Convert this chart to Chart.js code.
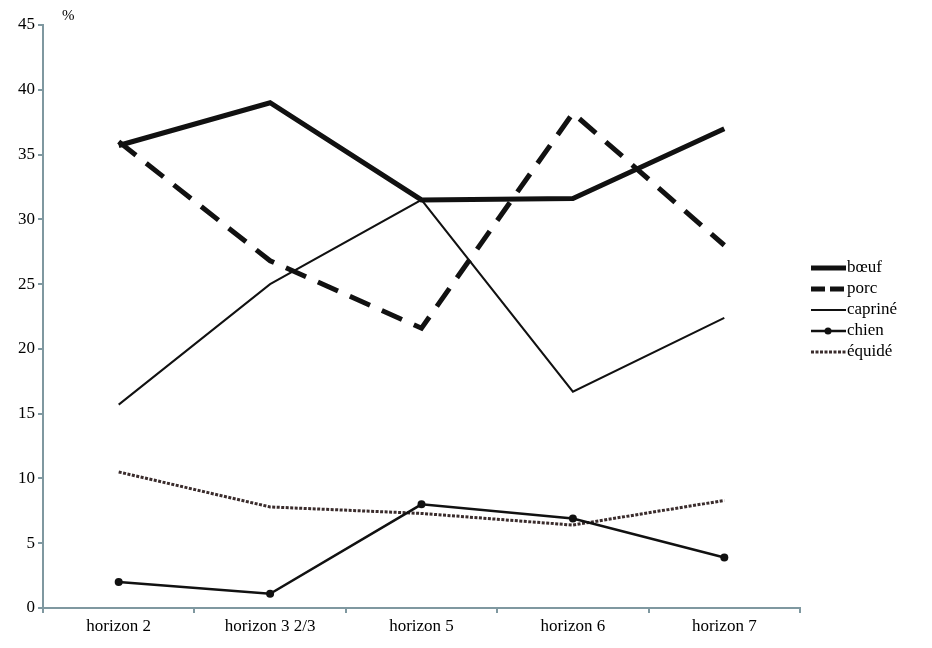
<!DOCTYPE html>
<html>
<head>
<meta charset="utf-8">
<script src="https://cdn.jsdelivr.net/npm/chart.js@4.4.0/dist/chart.umd.min.js"></script>
<style>
  body { margin: 0; background: #fff; }
  #wrap { width: 932px; height: 648px; }
</style>
</head>
<body>
<div id="wrap"><canvas id="myChart" width="932" height="648"></canvas></div>
<script>
// categories + series (% of remains)
const horizons = ["horizon 2", "horizon 3 2/3", "horizon 5", "horizon 6", "horizon 7"];
const boeuf   = [35.7, 39.0, 31.5, 31.6, 37.0];
const porc    = [36.0, 26.8, 21.6, 38.2, 28.0];
const caprine = [15.7, 25.0, 31.5, 16.7, 22.4];
const chien   = [2.0, 1.1, 8.0, 6.9, 3.9];
const equide  = [10.5, 7.8, 7.3, 6.4, 8.3];
const yTicks  = [0, 5, 10, 15, 20, 25, 30, 35, 40, 45];

const axisColor = "#7f98a0";
const serif = "'Liberation Serif', 'DejaVu Serif', serif";

// legend drawn by hand so the dashes look like the original
const sideLegend = {
  id: "sideLegend",
  afterDraw(chart) {
    const c = chart.ctx;
    c.save();
    c.font = "17px " + serif;
    c.textBaseline = "middle";
    c.fillStyle = "#000";
    chart.data.datasets.forEach((ds, i) => {
      const y = 268 + i * 21;
      c.beginPath();
      c.strokeStyle = ds.borderColor;
      c.lineWidth = ds.borderWidth;
      c.setLineDash(ds.legendDash || []);
      c.moveTo(811, y);
      c.lineTo(846, y);
      c.stroke();
      c.setLineDash([]);
      if (ds.pointRadius) {
        c.beginPath();
        c.fillStyle = ds.borderColor;
        c.arc(828, y, 3.5, 0, Math.PI * 2);
        c.fill();
        c.fillStyle = "#000";
      }
      c.fillText(ds.label, 847, y);
    });
    // unit above the y axis
    c.font = "15px " + serif;
    c.fillText("%", 62, 16);
    c.restore();
  }
};

const ctx = document.getElementById("myChart").getContext("2d");
const chart = new Chart(ctx, {
  type: "line",
  data: {
    labels: horizons,
    datasets: [
      {
        label: "bœuf",
        data: boeuf,
        borderColor: "#111",
        borderWidth: 5,
        pointRadius: 0,
        tension: 0,
      },
      {
        label: "porc",
        data: porc,
        borderColor: "#111",
        borderWidth: 5,
        borderDash: [22, 13],
        legendDash: [14, 5],
        pointRadius: 0,
        tension: 0,
      },
      {
        label: "capriné",
        data: caprine,
        borderColor: "#111",
        borderWidth: 2,
        pointRadius: 0,
        tension: 0,
      },
      {
        label: "chien",
        data: chien,
        borderColor: "#111",
        borderWidth: 2.5,
        pointRadius: 4,
        pointBackgroundColor: "#111",
        pointBorderWidth: 0,
        tension: 0,
      },
      {
        label: "équidé",
        data: equide,
        borderColor: "#3a2c2c",
        borderWidth: 3,
        borderDash: [3, 1.5],
        legendDash: [3, 1.5],
        pointRadius: 0,
        tension: 0,
      },
    ],
  },
  options: {
    responsive: false,
    animation: false,
    layout: { padding: { left: 0, right: 132, top: 25, bottom: 0 } },
    plugins: {
      legend: { display: false },
      tooltip: { enabled: false },
    },
    scales: {
      x: {
        offset: true,
        afterFit: (s) => { s.height = 40; },
        border: { display: true, color: axisColor, width: 2 },
        grid: { offset: true, drawOnChartArea: false, drawTicks: true, tickLength: 5, color: axisColor, lineWidth: 2 },
        ticks: { color: "#000", font: { family: serif, size: 17 }, padding: 3, maxRotation: 0 },
      },
      y: {
        min: 0,
        max: 45,
        afterFit: (s) => { s.width = 43; },
        afterBuildTicks: (s) => { s.ticks = yTicks.map((v) => ({ value: v })); },
        border: { display: true, color: axisColor, width: 2 },
        grid: { drawOnChartArea: false, drawTicks: true, tickLength: 5, color: axisColor, lineWidth: 2 },
        ticks: { color: "#000", font: { family: serif, size: 17 }, padding: 3 },
      },
    },
  },
  plugins: [sideLegend],
});
</script>
</body>
</html>
